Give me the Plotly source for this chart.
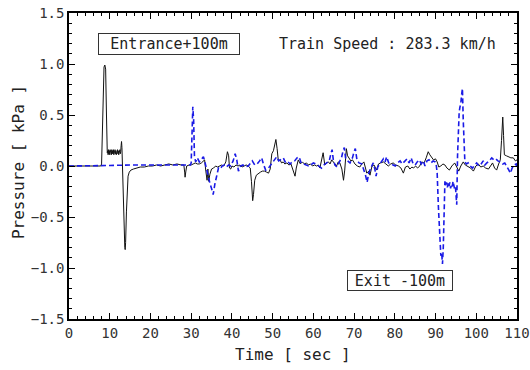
import plotly.graph_objects as go

# ---- data ----
entrance_t = [0, 7.8, 8.0, 8.3, 8.6, 8.8, 9.0, 9.2, 9.4,
              9.5, 9.6, 9.7, 9.8, 9.9, 10.0, 10.1, 10.2, 10.3, 10.4, 10.5, 10.6, 10.7, 10.8, 10.9,
              11.0, 11.1, 11.2, 11.3, 11.4, 11.5, 11.6, 11.7, 11.8, 11.9, 12.0, 12.1, 12.2, 12.3,
              12.4, 12.5, 12.6, 12.7,
              12.8, 12.9, 13.0, 13.1, 13.3, 13.5, 13.7, 13.8, 13.9, 14.1, 14.3, 14.5, 14.8, 15.2,
              15.8, 16.5, 17.5, 18.5, 19.5, 20.5, 21.5, 22.5, 23.5, 24.5, 25.5, 26.5, 27.5, 28.2,
              28.4, 28.5, 28.7, 28.9, 29.5, 30, 30.5, 31, 31.5, 32, 32.5, 33, 33.3, 33.6, 33.9,
              34.1, 34.3, 34.6, 35, 35.5, 36, 36.5, 37, 37.5, 38, 38.5, 38.9, 39.2, 39.4, 39.7,
              40, 40.5, 41, 41.5, 42, 42.5, 43, 43.5, 44, 44.5, 44.8, 45.1, 45.3, 45.6, 46, 46.5,
              47, 47.5, 48, 48.5, 49, 49.4, 49.8, 50.2, 50.5, 50.8, 51.1, 51.4, 51.8, 52.2, 52.6,
              53, 53.5, 54, 54.5, 55, 55.5, 55.8, 56.3, 56.8, 57.3, 57.8, 58.3, 58.8, 59.3, 59.8,
              60.3, 60.8, 61.2, 61.6, 62.0, 62.4, 62.8, 63.2, 63.7, 64.1, 64.5, 65.0, 65.7, 66.1,
              66.5, 67.0, 67.4, 67.7, 68.1, 68.4, 68.8, 69.2, 69.6, 70.2, 70.8, 71.4, 71.9, 72.4,
              72.8, 73.1, 73.6, 73.9, 74.4, 74.9, 75.5, 76, 76.5, 77.2, 77.8, 78.4, 79, 79.6,
              80.2, 80.9, 81.5, 82.1, 82.6, 83.2, 83.7, 84.2, 84.6, 85.1, 85.6, 86.1, 86.6, 87.2,
              87.7, 88.2, 88.6, 89, 89.5, 90.0, 90.4, 90.8, 91.3, 91.8, 92.3, 92.8, 93.4, 94,
              94.7, 95.2, 95.7, 96.2, 96.8, 97.3, 98, 98.6, 99.3, 99.9, 100.5, 101.1, 101.7,
              102.3, 103, 103.5, 104, 104.5, 105, 105.5, 105.9, 106.2, 106.5, 106.7, 106.9,
              107.4, 107.9, 108.5, 109.1, 109.6, 110]
entrance_p = [0.0, 0.0, 0.02, 0.45, 0.97, 0.99, 0.95, 0.5, 0.13,
              0.15, 0.11, 0.16, 0.12, 0.15, 0.11, 0.16, 0.12, 0.14, 0.11, 0.16, 0.12, 0.15, 0.12, 0.16,
              0.11, 0.15, 0.12, 0.16, 0.12, 0.15, 0.11, 0.15, 0.12, 0.16, 0.12, 0.15, 0.11, 0.15,
              0.13, 0.16, 0.12, 0.14,
              0.2, 0.24, 0.18, 0.0, -0.4, -0.7, -0.8, -0.82, -0.75, -0.45, -0.2, -0.1, -0.06, -0.04,
              -0.03, -0.02, -0.01, -0.01, 0.0, 0.0, 0.01, 0.0, 0.01, 0.02, 0.01, 0.02, 0.01, 0.01,
              -0.06, -0.11, -0.05, 0.0, 0.01, 0.01, 0.02, 0.03, 0.02, 0.02, 0.03, 0.05, 0.06, -0.05, -0.14,
              -0.03, -0.15, -0.08, -0.03, -0.02, 0.0, -0.01, 0.0, 0.01, 0.0, 0.04, 0.14, 0.1, -0.02, -0.03,
              0.0, -0.01, 0.01, 0.0, 0.01, -0.01, 0.0, 0.01, 0.0, -0.02, -0.15, -0.34, -0.28, -0.14, -0.09, -0.07,
              -0.06, -0.05, -0.05, -0.06, -0.07, -0.03, 0.12, 0.15, 0.2, 0.26, 0.17, 0.05, 0.06, 0.03, 0.04,
              0.02, 0.03, 0.01, 0.02, -0.04, -0.1, -0.02, 0.06, 0.02, 0.04, 0.02, 0.03, 0.01, 0.02, 0.0,
              0.01, 0.0, 0.01, -0.02, 0.05, 0.13, 0.01, 0.03, 0.04, 0.02, 0.06, 0.03, 0.0, 0.04,
              0.03, -0.03, -0.14, -0.04, 0.17, 0.1, 0.07, 0.05, 0.06, 0.02, 0.0, -0.01, 0.02, 0.04,
              -0.02, -0.07, -0.05, -0.09, 0.0, 0.01, -0.04, 0.02, 0.03, 0.04, 0.02, 0.0, 0.02, 0.03,
              0.01, 0.0, -0.02, -0.07, -0.01, 0.0, -0.03, -0.01, -0.02, 0.0, -0.02, 0.0, 0.04, 0.03,
              0.08, 0.14, 0.11, 0.09, 0.06, 0.07, 0.04, -0.01, 0.0, 0.02, 0.01, -0.02, -0.04, 0.0,
              0.03, -0.01, -0.05, 0.0, 0.04, 0.01, -0.01, -0.02, -0.05, 0.0, 0.02, -0.01, 0.0,
              -0.02, -0.03, 0.0, 0.03, -0.02, -0.04, 0.02, 0.06, 0.25, 0.48, 0.3, 0.11,
              0.1, 0.09, 0.08, 0.08, 0.05, 0.06]

exit_t = [0, 5, 10, 15, 20, 25, 29.8, 30.0, 30.2, 30.4, 30.6, 30.8, 31.1, 31.5, 32, 32.5,
          33.0, 33.3, 33.7, 34.1, 34.6, 35.0, 35.4, 35.8, 36.3, 36.7, 37.1, 37.6, 38.1, 38.6,
          39.2, 39.7, 40.3, 40.8, 41.2, 41.6, 42.1, 42.7, 43.3, 44, 44.6, 45, 45.6, 46.2, 46.8,
          47.3, 47.8, 48.3, 48.8, 49.3, 49.8, 50.5, 51, 51.5, 52, 52.6, 53.2, 53.8, 54.3, 54.8,
          55.4, 56.0, 56.5, 57, 57.6, 58.2, 58.8, 59.4, 60, 60.6, 61.2, 62, 62.6, 63.3, 63.9,
          64.3, 64.6, 64.9, 65.3, 65.8, 66.3, 66.9, 67.3, 67.6, 67.9, 68.4, 69.0, 69.6, 70.0,
          70.3, 70.7, 71.2, 71.9, 72.4, 72.8, 73.2, 73.6, 74.1, 74.7, 75.1, 75.4, 75.8, 76.3,
          76.8, 77.2, 77.6, 78.0, 78.5, 79.0, 79.6, 80.1, 80.7, 81.3, 81.8, 82.5, 83.0, 83.5,
          84.0, 84.5, 85.0, 85.5, 86.0, 86.5, 87.0, 87.4, 87.9, 88.4, 88.9, 89.4, 89.9, 90.2,
          90.4, 90.7, 91.0, 91.3, 91.5, 91.7, 91.9, 92.1, 92.3, 92.5, 92.7, 92.9, 93.1, 93.3,
          93.5, 93.7, 93.9, 94.1, 94.3, 94.5, 94.7, 94.9, 95.1, 95.2, 95.4, 95.6, 95.8, 96.0,
          96.2, 96.4, 96.6, 96.8, 97.0, 97.2, 97.6, 98.0, 98.5, 99.1, 99.6, 100.1, 100.6, 101.2,
          101.7, 102.1, 102.6, 103.2, 103.8, 104.3, 104.8, 105.3, 105.9, 106.5, 107, 107.5,
          108.0, 108.4, 108.8, 109.3, 109.8, 110]
exit_p = [0.0, 0.0, 0.005, 0.01, 0.01, 0.01, 0.01, 0.03, 0.3, 0.58, 0.45, 0.1, 0.04, 0.08, 0.04, 0.06,
          0.09, 0.05, -0.02, -0.1, -0.17, -0.22, -0.28, -0.18, -0.08, -0.02, -0.03, 0.0, 0.01, -0.01,
          0.01, 0.0, 0.05, 0.12, 0.06, -0.05, 0.0, 0.01, -0.01, 0.0, 0.03, 0.05, 0.01, 0.02, 0.05,
          0.08, 0.01, -0.04, -0.03, 0.0, 0.03, 0.06, 0.09, 0.05, 0.06, 0.08, 0.03, 0.04, 0.02, 0.04,
          0.05, 0.08, 0.09, 0.03, 0.02, 0.01, 0.0, 0.01, 0.03, 0.02, 0.0, -0.02, 0.01, 0.03, 0.05,
          0.12, 0.16, 0.06, 0.01, -0.01, 0.03, 0.08, 0.15, 0.18, 0.08, 0.05, 0.03, 0.08, 0.14,
          0.17, 0.06, 0.03, 0.02, -0.04, -0.09, -0.16, -0.07, -0.02, 0.03, -0.03, -0.1, -0.01, 0.02,
          0.05, 0.07, 0.04, 0.09, 0.03, 0.02, 0.01, 0.0, 0.03, 0.05, 0.02, 0.05, 0.07, 0.03,
          0.08, 0.02, 0.01, 0.04, 0.06, 0.02, 0.05, 0.0, 0.05, 0.06, 0.03, 0.05, 0.04, 0.0,
          -0.07, -0.4, -0.7, -0.88, -0.85, -0.96, -0.8, -0.45, -0.15, -0.19, -0.16, -0.21, -0.17, -0.2,
          -0.16, -0.22, -0.18, -0.2, -0.15, -0.19, -0.23, -0.21, -0.3, -0.38, 0.1, 0.45, 0.53, 0.58,
          0.61, 0.7, 0.76, 0.45, 0.15, 0.04, 0.02, 0.03, 0.0, -0.02, 0.01, 0.03, 0.0, 0.02,
          0.05, 0.01, 0.03, 0.05, 0.08, 0.06, 0.07, 0.05, 0.04, 0.02, 0.03, 0.0,
          -0.04, -0.07, -0.02, 0.01, 0.02, 0.0]

x_ticks = [0, 10, 20, 30, 40, 50, 60, 70, 80, 90, 100, 110]
y_ticks = [-1.5, -1.0, -0.5, 0.0, 0.5, 1.0, 1.5]
y_tick_text = ["\u22121.5", "\u22121.0", "\u22120.5", "0.0", "0.5", "1.0", "1.5"]

FONT = "DejaVu Sans Mono"

fig = go.Figure()
fig.add_trace(go.Scatter(x=entrance_t, y=entrance_p, mode="lines",
                         line=dict(color="#111", width=1), showlegend=False))
fig.add_trace(go.Scatter(x=exit_t, y=exit_p, mode="lines",
                         line=dict(color="#1a1ae6", width=1.6, dash="5px,3px"), showlegend=False))
# invisible trace so the mirrored (top/right) tick axes are drawn
fig.add_trace(go.Scatter(x=[0], y=[0], xaxis="x2", yaxis="y2", mode="markers",
                         marker=dict(opacity=0), showlegend=False, hoverinfo="skip"))

axis_common = dict(showgrid=False, zeroline=False, showline=True, linecolor="black",
                   linewidth=1.5, ticks="inside", ticklen=6, tickcolor="black", automargin=False,
                   tickfont=dict(family=FONT, size=14, color="#333"))

fig.update_layout(
    xaxis=dict(range=[0, 110], tickvals=x_ticks,
               minor=dict(dtick=2, ticks="inside", ticklen=3, tickcolor="black"),
               **axis_common),
    yaxis=dict(range=[-1.5, 1.5], tickvals=y_ticks, ticktext=y_tick_text,
               minor=dict(dtick=0.1, ticks="inside", ticklen=3, tickcolor="black"),
               **axis_common),
    xaxis2=dict(range=[0, 110], tickvals=x_ticks, overlaying="x", side="top",
                showticklabels=False, showgrid=False, zeroline=False, showline=True,
                linecolor="black", linewidth=1.5, ticks="inside", ticklen=6, tickcolor="black",
                automargin=False,
                minor=dict(dtick=2, ticks="inside", ticklen=3, tickcolor="black")),
    yaxis2=dict(range=[-1.5, 1.5], tickvals=y_ticks, overlaying="y", side="right",
                showticklabels=False, showgrid=False, zeroline=False, showline=True,
                linecolor="black", linewidth=1.5, ticks="inside", ticklen=6, tickcolor="black",
                automargin=False,
                minor=dict(dtick=0.1, ticks="inside", ticklen=3, tickcolor="black")),
)

# axis titles
fig.add_annotation(x=-0.1138, y=0.513, xref="paper", yref="paper", text="Pressure [ kPa ]",
                   textangle=-90, showarrow=False, xanchor="center", yanchor="middle",
                   font=dict(family=FONT, size=16, color="#222"))
fig.add_annotation(x=0.5, y=-0.1176, xref="paper", yref="paper", text="Time [ sec ]",
                   showarrow=False, xanchor="center", yanchor="middle",
                   font=dict(family=FONT, size=16, color="#222"))

fig.add_annotation(x=24.55, y=1.196, xref="x", yref="y", text="Entrance+100m", showarrow=False,
                   font=dict(family=FONT, size=15, color="#222"), bordercolor="#333",
                   borderwidth=1, borderpad=1, bgcolor="white", width=138, height=18)
fig.add_annotation(x=78.1, y=1.196, xref="x", yref="y", text="Train Speed : 283.3 km/h",
                   showarrow=False, font=dict(family=FONT, size=15, color="#222"))
fig.add_annotation(x=81.3, y=-1.118, xref="x", yref="y", text="Exit -100m", showarrow=False,
                   font=dict(family=FONT, size=15, color="#222"), bordercolor="#333",
                   borderwidth=1, borderpad=1, bgcolor="white", width=102, height=17)

fig.update_layout(width=530, height=370, margin=dict(l=69, r=13, t=13, b=51),
                  plot_bgcolor="white", paper_bgcolor="white")

fig.write_html("out.html")
